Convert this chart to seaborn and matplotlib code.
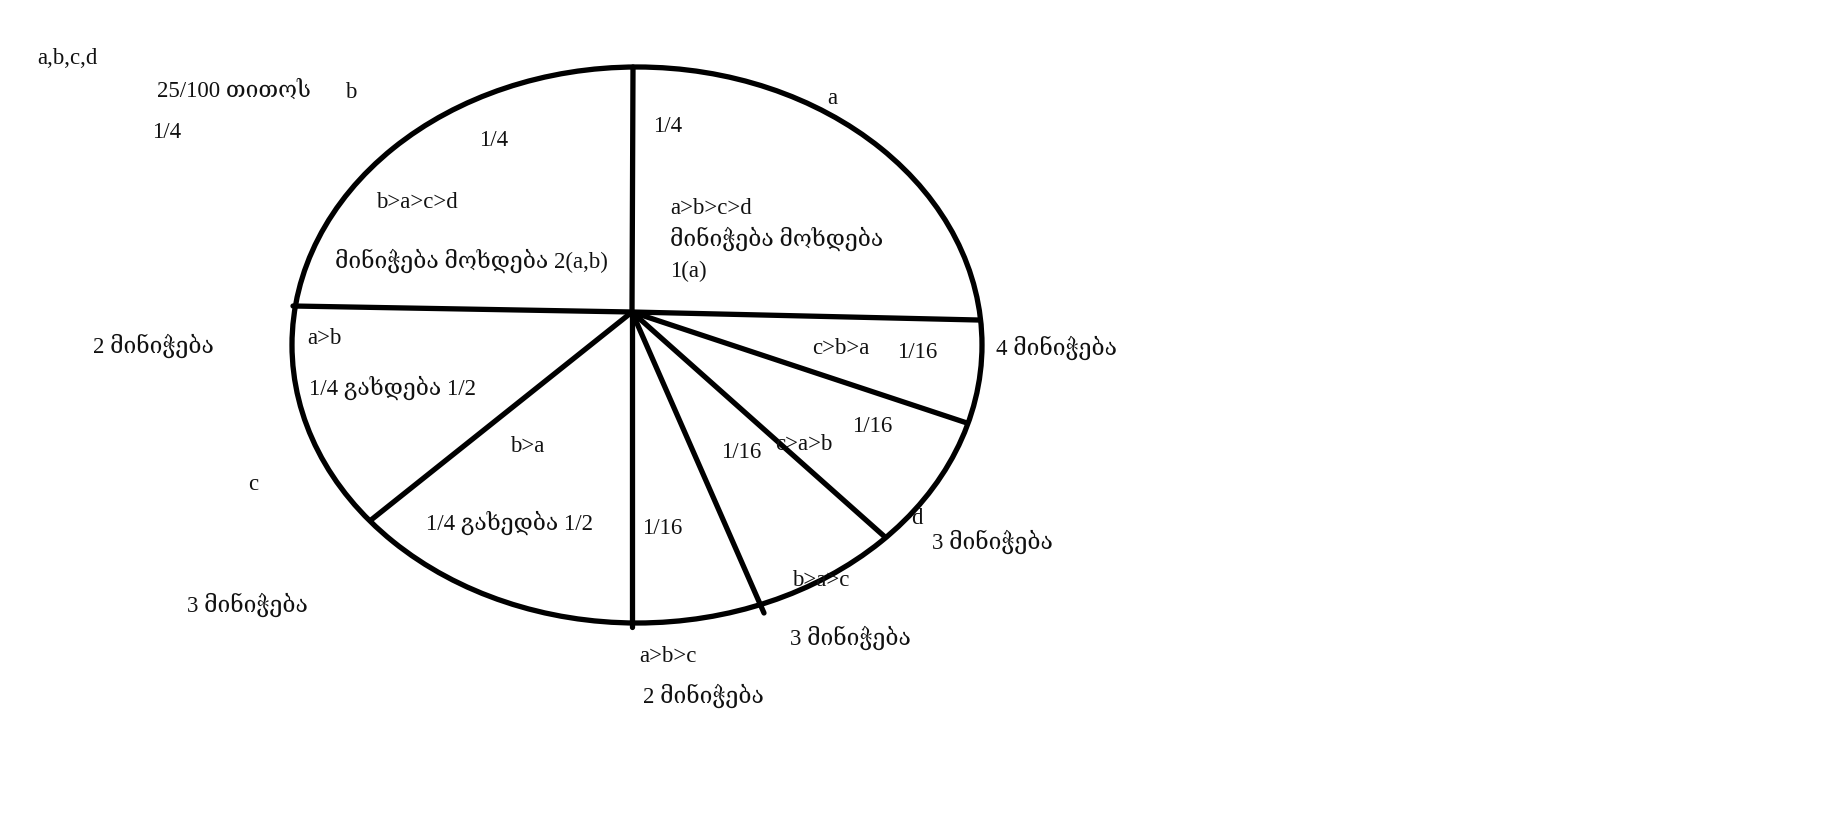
import numpy as np
import pandas as pd
import matplotlib
matplotlib.use("Agg")
import matplotlib.pyplot as plt
from matplotlib.patches import Ellipse
import seaborn as sns

sns.set_theme(style="white")
plt.rcParams['font.family'] = ['Liberation Serif', 'DejaVu Serif', 'DejaVu Sans']

# spoke lines from the hub (pixel coordinates of the drawing)
hub_x, hub_y = 632, 312
spoke_end_x = [633, 293, 978, 967, 885, 764, 632, 371]
spoke_end_y = [67, 306, 320, 423, 537, 613, 627, 520]

# outer ellipse
ell_cx, ell_cy = 637, 345
ell_w, ell_h = 690, 556

# labels
labels = [
    "a,b,c,d", "25/100 თითოს", "b", "1/4",
    "1/4", "b>a>c>d", "მინიჭება მოხდება 2(a,b)",
    "1/4", "a", "a>b>c>d", "მინიჭება მოხდება", "1(a)",
    "2 მინიჭება", "a>b", "1/4 გახდება 1/2", "b>a", "c",
    "1/4 გახედბა 1/2", "1/16",
    "c>b>a", "1/16", "4 მინიჭება",
    "1/16", "1/16", "c>a>b", "d", "3 მინიჭება",
    "b>a>c", "3 მინიჭება", "3 მინიჭება",
    "a>b>c", "2 მინიჭება",
]
label_x = [
    37, 157, 345, 152,
    479, 376, 335,
    653, 827, 670, 670, 670,
    93, 307, 309, 510, 248,
    426, 642,
    812, 897, 996,
    852, 721, 775, 911, 932,
    792, 790, 187,
    639, 643,
]
label_y = [
    58, 91, 93, 132,
    140, 203, 261,
    126, 99, 209, 239, 271,
    346, 339, 388, 447, 484,
    523, 529,
    348, 352, 348,
    427, 453, 445, 519, 542,
    580, 638, 605,
    656, 696,
]

segs = []
for i, (ex, ey) in enumerate(zip(spoke_end_x, spoke_end_y)):
    segs.append({"seg": i, "x": hub_x, "y": hub_y})
    segs.append({"seg": i, "x": ex, "y": ey})
df = pd.DataFrame(segs)

fig = plt.figure(figsize=(18.29, 8.32), dpi=100)
ax = fig.add_axes([0, 0, 1, 1])

ax.add_patch(Ellipse((ell_cx, ell_cy), ell_w, ell_h, fill=False, ec='black', lw=3.8))
sns.lineplot(data=df, x='x', y='y', units='seg', estimator=None, sort=False,
             color='black', lw=3.8, ax=ax, legend=False)
ax.set_xlim(0, 1829)
ax.set_ylim(832, 0)
ax.axis('off')

for t, x, y in zip(labels, label_x, label_y):
    ax.text(x, y, t, ha='left', va='center', fontsize=16.5, color='#111111')

fig.savefig('out.png', dpi=100, facecolor='white')
